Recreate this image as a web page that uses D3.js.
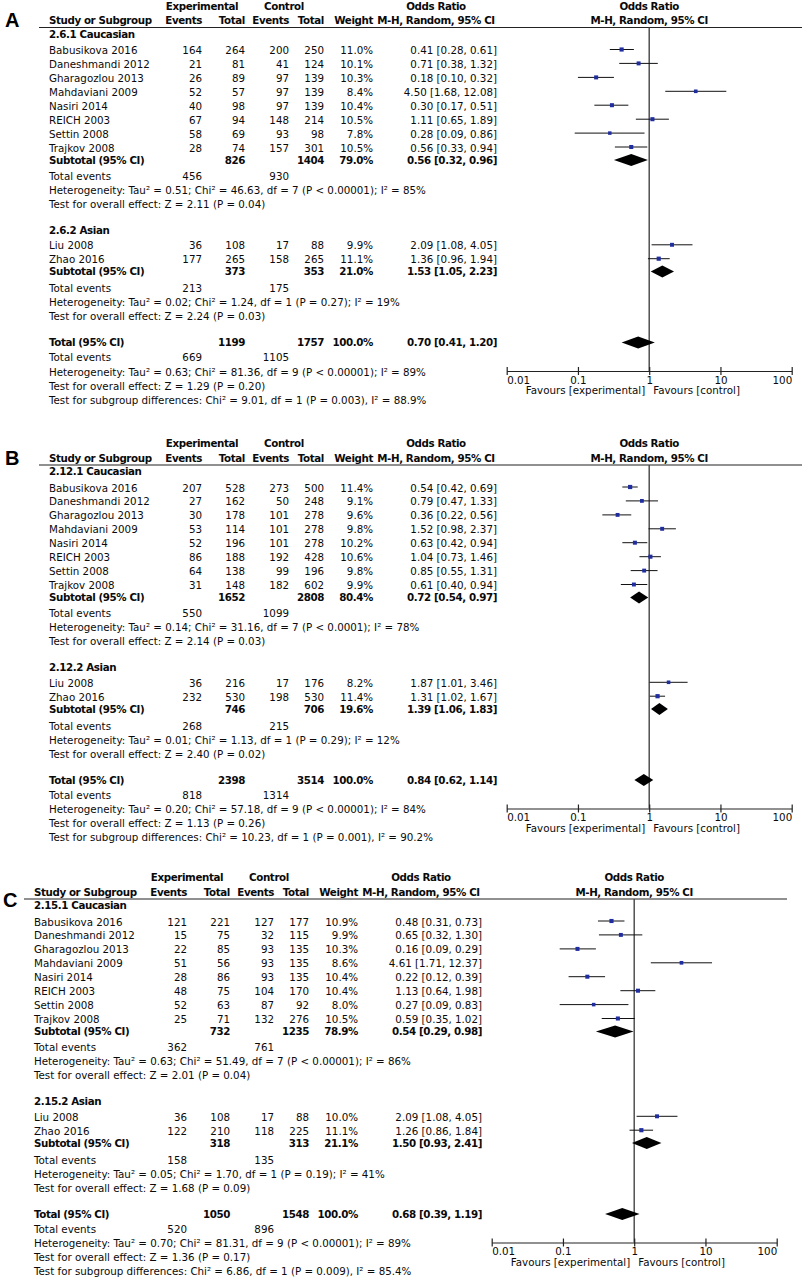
<!DOCTYPE html>
<html><head><meta charset="utf-8">
<script src="https://cdn.jsdelivr.net/npm/d3@7"></script>
<style>
body{margin:0;background:#fff}
text{font-family:"DejaVu Sans",sans-serif;font-size:10.3px;fill:#0a0a0a}
text.b{font-weight:bold;letter-spacing:-0.4px}
</style>
</head><body><svg id="c" width="803" height="1279"></svg>
<script>
// ---------- data ----------
const studyNames = ["Babusikova 2016","Daneshmandi 2012","Gharagozlou 2013","Mahdaviani 2009","Nasiri 2014","REICH 2003","Settin 2008","Trajkov 2008","Liu 2008","Zhao 2016"];
const groupSizes = [8, 2];
const axisTicks = [0.01, 0.1, 1, 10, 100];
const axisTickLabels = ["0.01", "0.1", "1", "10", "100"];

// Panel A
const groupNamesA = ["2.6.1 Caucasian", "2.6.2 Asian"];
const expEventsA = [164,21,26,52,40,67,58,28,36,177];
const expTotalA  = [264,81,89,57,98,94,69,74,108,265];
const ctlEventsA = [200,41,97,97,97,148,93,157,17,158];
const ctlTotalA  = [250,124,139,139,139,214,98,301,88,265];
const weightA    = [11.0,10.1,10.3,8.4,10.4,10.5,7.8,10.5,9.9,11.1];
const orA        = [0.41,0.71,0.18,4.50,0.30,1.11,0.28,0.56,2.09,1.36];
const loA        = [0.28,0.38,0.10,1.68,0.17,0.65,0.09,0.33,1.08,0.96];
const hiA        = [0.61,1.32,0.32,12.08,0.51,1.89,0.86,0.94,4.05,1.94];
const subExpTotalA = [826, 373, 1199];
const subCtlTotalA = [1404, 353, 1757];
const subWeightA   = [79.0, 21.0, 100.0];
const subOrA = [0.56, 1.53, 0.70];
const subLoA = [0.32, 1.05, 0.41];
const subHiA = [0.96, 2.23, 1.20];
const subExpEventsA = [456, 213, 669];
const subCtlEventsA = [930, 175, 1105];
const hetA  = ["Tau² = 0.51; Chi² = 46.63, df = 7 (P < 0.00001); I² = 85%", "Tau² = 0.02; Chi² = 1.24, df = 1 (P = 0.27); I² = 19%", "Tau² = 0.63; Chi² = 81.36, df = 9 (P < 0.00001); I² = 89%"];
const testA = ["Z = 2.11 (P = 0.04)", "Z = 2.24 (P = 0.03)", "Z = 1.29 (P = 0.20)"];
const subgroupDiffA = "Chi² = 9.01, df = 1 (P = 0.003), I² = 88.9%";

// Panel B
const groupNamesB = ["2.12.1 Caucasian", "2.12.2 Asian"];
const expEventsB = [207,27,30,53,52,86,64,31,36,232];
const expTotalB  = [528,162,178,114,196,188,138,148,216,530];
const ctlEventsB = [273,50,101,101,101,192,99,182,17,198];
const ctlTotalB  = [500,248,278,278,278,428,196,602,176,530];
const weightB    = [11.4,9.1,9.6,9.8,10.2,10.6,9.8,9.9,8.2,11.4];
const orB        = [0.54,0.79,0.36,1.52,0.63,1.04,0.85,0.61,1.87,1.31];
const loB        = [0.42,0.47,0.22,0.98,0.42,0.73,0.55,0.40,1.01,1.02];
const hiB        = [0.69,1.33,0.56,2.37,0.94,1.46,1.31,0.94,3.46,1.67];
const subExpTotalB = [1652, 746, 2398];
const subCtlTotalB = [2808, 706, 3514];
const subWeightB   = [80.4, 19.6, 100.0];
const subOrB = [0.72, 1.39, 0.84];
const subLoB = [0.54, 1.06, 0.62];
const subHiB = [0.97, 1.83, 1.14];
const subExpEventsB = [550, 268, 818];
const subCtlEventsB = [1099, 215, 1314];
const hetB  = ["Tau² = 0.14; Chi² = 31.16, df = 7 (P < 0.0001); I² = 78%", "Tau² = 0.01; Chi² = 1.13, df = 1 (P = 0.29); I² = 12%", "Tau² = 0.20; Chi² = 57.18, df = 9 (P < 0.00001); I² = 84%"];
const testB = ["Z = 2.14 (P = 0.03)", "Z = 2.40 (P = 0.02)", "Z = 1.13 (P = 0.26)"];
const subgroupDiffB = "Chi² = 10.23, df = 1 (P = 0.001), I² = 90.2%";

// Panel C
const groupNamesC = ["2.15.1 Caucasian", "2.15.2 Asian"];
const expEventsC = [121,15,22,51,28,48,52,25,36,122];
const expTotalC  = [221,75,85,56,86,75,63,71,108,210];
const ctlEventsC = [127,32,93,93,93,104,87,132,17,118];
const ctlTotalC  = [177,115,135,135,135,170,92,276,88,225];
const weightC    = [10.9,9.9,10.3,8.6,10.4,10.4,8.0,10.5,10.0,11.1];
const orC        = [0.48,0.65,0.16,4.61,0.22,1.13,0.27,0.59,2.09,1.26];
const loC        = [0.31,0.32,0.09,1.71,0.12,0.64,0.09,0.35,1.08,0.86];
const hiC        = [0.73,1.30,0.29,12.37,0.39,1.98,0.83,1.02,4.05,1.84];
const subExpTotalC = [732, 318, 1050];
const subCtlTotalC = [1235, 313, 1548];
const subWeightC   = [78.9, 21.1, 100.0];
const subOrC = [0.54, 1.50, 0.68];
const subLoC = [0.29, 0.93, 0.39];
const subHiC = [0.98, 2.41, 1.19];
const subExpEventsC = [362, 158, 520];
const subCtlEventsC = [761, 135, 896];
const hetC  = ["Tau² = 0.63; Chi² = 51.49, df = 7 (P < 0.00001); I² = 86%", "Tau² = 0.05; Chi² = 1.70, df = 1 (P = 0.19); I² = 41%", "Tau² = 0.70; Chi² = 81.31, df = 9 (P < 0.00001); I² = 89%"];
const testC = ["Z = 2.01 (P = 0.04)", "Z = 1.68 (P = 0.09)", "Z = 1.36 (P = 0.17)"];
const subgroupDiffC = "Chi² = 6.86, df = 1 (P = 0.009), I² = 85.4%";

// ---------- assemble ----------
const panels = [
  {label:"A", dx:0, dy:0, lx:5, ly:27, groups:groupNamesA, ee:expEventsA, et:expTotalA, ce:ctlEventsA, ct:ctlTotalA, w:weightA, or:orA, lo:loA, hi:hiA,
   set:subExpTotalA, sct:subCtlTotalA, sw:subWeightA, sor:subOrA, slo:subLoA, shi:subHiA, see:subExpEventsA, sce:subCtlEventsA, het:hetA, test:testA, diff:subgroupDiffA},
  {label:"B", dx:0, dy:437.5, lx:5, ly:465, groups:groupNamesB, ee:expEventsB, et:expTotalB, ce:ctlEventsB, ct:ctlTotalB, w:weightB, or:orB, lo:loB, hi:hiB,
   set:subExpTotalB, sct:subCtlTotalB, sw:subWeightB, sor:subOrB, slo:subLoB, shi:subHiB, see:subExpEventsB, sce:subCtlEventsB, het:hetB, test:testB, diff:subgroupDiffB},
  {label:"C", dx:-15, dy:871.5, lx:3, ly:907, groups:groupNamesC, ee:expEventsC, et:expTotalC, ce:ctlEventsC, ct:ctlTotalC, w:weightC, or:orC, lo:loC, hi:hiC,
   set:subExpTotalC, sct:subCtlTotalC, sw:subWeightC, sor:subOrC, slo:subLoC, shi:subHiC, see:subExpEventsC, sce:subCtlEventsC, het:hetC, test:testC, diff:subgroupDiffC}
];

const svg = d3.select("#c");
svg.append("rect").attr("width",803).attr("height",1279).attr("fill","#fff");

// column x positions (panel A frame)
const col = {name:49, ee:202, et:245, ce:289, ct:324, w:373, ortxt:497, expHdr:202, ctlHdr:284, orHdr:436, plotL:506.7, plotR:791.7, lineL:39, lineR:802};
// row baselines (panel frame)
const Y = {hdr1:9.5, hdr2:24, hline:27.5,
  groups:[{label:37.5, rows:[54,67.9,81.9,95.8,109.7,123.7,137.6,151.5], sub:163.5, ev:179.5, het:193.5, test:207.5},
          {label:233.5, rows:[249.3,263.2], sub:275, ev:292, het:306, test:320}],
  tot:346, totEv:361, totHet:375.5, totTest:389.5, diff:403.5, axis:371, tickLab:383.5, fav:394};

const fmt2 = v => v.toFixed(2);
const orText = (o,l,h) => `${fmt2(o)} [${fmt2(l)}, ${fmt2(h)}]`;

panels.forEach(p => {
  svg.append("text").attr("x",p.lx).attr("y",p.ly).text(p.label)
    .style("font-family","'Liberation Sans',Arial,sans-serif").style("font-size","20px").style("font-weight","bold").style("fill","#000");
  const g = svg.append("g").attr("transform",`translate(${p.dx},${p.dy})`);
  const x = d3.scaleLog().domain([0.01,100]).range([col.plotL, col.plotR]);
  const t = (xp, y, s, anchor="start", bold=false) =>
    g.append("text").attr("x",xp).attr("y",y).attr("text-anchor",anchor).attr("class",bold?"b":null).text(s);

  // headers
  t(col.expHdr, Y.hdr1, "Experimental", "middle", true);
  t(col.ctlHdr, Y.hdr1, "Control", "middle", true);
  t(col.orHdr, Y.hdr1, "Odds Ratio", "middle", true);
  t(x(1), Y.hdr1, "Odds Ratio", "middle", true);
  t(col.name, Y.hdr2, "Study or Subgroup", "start", true);
  t(col.ee, Y.hdr2, "Events", "end", true);
  t(col.et, Y.hdr2, "Total", "end", true);
  t(col.ce, Y.hdr2, "Events", "end", true);
  t(col.ct, Y.hdr2, "Total", "end", true);
  t(col.w, Y.hdr2, "Weight", "end", true);
  t(col.orHdr, Y.hdr2, "M-H, Random, 95% CI", "middle", true);
  t(x(1), Y.hdr2, "M-H, Random, 95% CI", "middle", true);
  g.append("line").attr("x1",col.lineL).attr("x2",col.lineR).attr("y1",Y.hline).attr("y2",Y.hline)
    .attr("stroke","#222").attr("stroke-width",1.2);

  // vertical line of no effect
  g.append("line").attr("x1",x(1)).attr("x2",x(1)).attr("y1",Y.hline).attr("y2",Y.axis)
    .attr("stroke","#444").attr("stroke-width",1.4);

  let idx = 0;
  p.groups.forEach((gname, gi) => {
    const gy = Y.groups[gi];
    t(col.name, gy.label, gname, "start", true);
    for (let k = 0; k < groupSizes[gi]; k++, idx++) {
      const y = gy.rows[k];
      t(col.name, y, studyNames[idx]);
      t(col.ee, y, p.ee[idx], "end");
      t(col.et, y, p.et[idx], "end");
      t(col.ce, y, p.ce[idx], "end");
      t(col.ct, y, p.ct[idx], "end");
      t(col.w, y, p.w[idx].toFixed(1) + "%", "end");
      t(col.ortxt, y, orText(p.or[idx], p.lo[idx], p.hi[idx]), "end");
      const cy = y - 4.5;
      g.append("line").attr("x1",x(p.lo[idx])).attr("x2",x(p.hi[idx])).attr("y1",cy).attr("y2",cy)
        .attr("stroke","#111").attr("stroke-width",1);
      const s = Math.sqrt(p.w[idx]) * 1.25;
      g.append("rect").attr("x",x(p.or[idx]) - s/2).attr("y",cy - s/2).attr("width",s).attr("height",s)
        .attr("fill","#1f2d9e");
    }
    // subtotal
    t(col.name, gy.sub, "Subtotal (95% CI)", "start", true);
    t(col.et, gy.sub, p.set[gi], "end", true);
    t(col.ct, gy.sub, p.sct[gi], "end", true);
    t(col.w, gy.sub, p.sw[gi].toFixed(1) + "%", "end", true);
    t(col.ortxt, gy.sub, orText(p.sor[gi], p.slo[gi], p.shi[gi]), "end", true);
    drawDiamond(g, x, p.slo[gi], p.sor[gi], p.shi[gi], gy.sub - 3.5);
    t(col.name, gy.ev, "Total events");
    t(col.ee, gy.ev, p.see[gi], "end");
    t(col.ce, gy.ev, p.sce[gi], "end");
    t(col.name, gy.het, "Heterogeneity: " + p.het[gi]);
    t(col.name, gy.test, "Test for overall effect: " + p.test[gi]);
  });
  // total
  t(col.name, Y.tot, "Total (95% CI)", "start", true);
  t(col.et, Y.tot, p.set[2], "end", true);
  t(col.ct, Y.tot, p.sct[2], "end", true);
  t(col.w, Y.tot, p.sw[2].toFixed(1) + "%", "end", true);
  t(col.ortxt, Y.tot, orText(p.sor[2], p.slo[2], p.shi[2]), "end", true);
  drawDiamond(g, x, p.slo[2], p.sor[2], p.shi[2], Y.tot - 3.5);
  t(col.name, Y.totEv, "Total events");
  t(col.ee, Y.totEv, p.see[2], "end");
  t(col.ce, Y.totEv, p.sce[2], "end");
  t(col.name, Y.totHet, "Heterogeneity: " + p.het[2]);
  t(col.name, Y.totTest, "Test for overall effect: " + p.test[2]);
  t(col.name, Y.diff, "Test for subgroup differences: " + p.diff);

  // axis
  const ax = d3.axisBottom(x).tickValues(axisTicks).tickFormat((d,i) => axisTickLabels[i]).tickSize(4).tickSizeOuter(0);
  const ag = g.append("g").attr("transform",`translate(0,${Y.axis})`).call(ax);
  ag.select(".domain").attr("stroke","#222").attr("stroke-width",1.2);
  ag.selectAll(".tick line").attr("y1",-4).attr("y2",4).attr("stroke","#222").attr("stroke-width",1.2);
  ag.selectAll(".tick text").attr("y",12.5).attr("dy",null)
    .style("font-family","'DejaVu Sans',sans-serif").style("font-size","10.3px").attr("fill","#0a0a0a")
    .attr("text-anchor",(d,i) => i === 0 ? "start" : (i === axisTicks.length - 1 ? "end" : "middle"));
  t(x(1) - 4, Y.fav, "Favours [experimental]", "end");
  t(x(1) + 4, Y.fav, "Favours [control]", "start");
});

function drawDiamond(g, x, lo, or, hi, cy) {
  const h = 6;
  const pts = [[x(lo),cy],[x(or),cy-h],[x(hi),cy],[x(or),cy+h]];
  g.append("path").attr("d", d3.line()(pts) + "Z").attr("fill","#000");
}
</script>
</body></html>
